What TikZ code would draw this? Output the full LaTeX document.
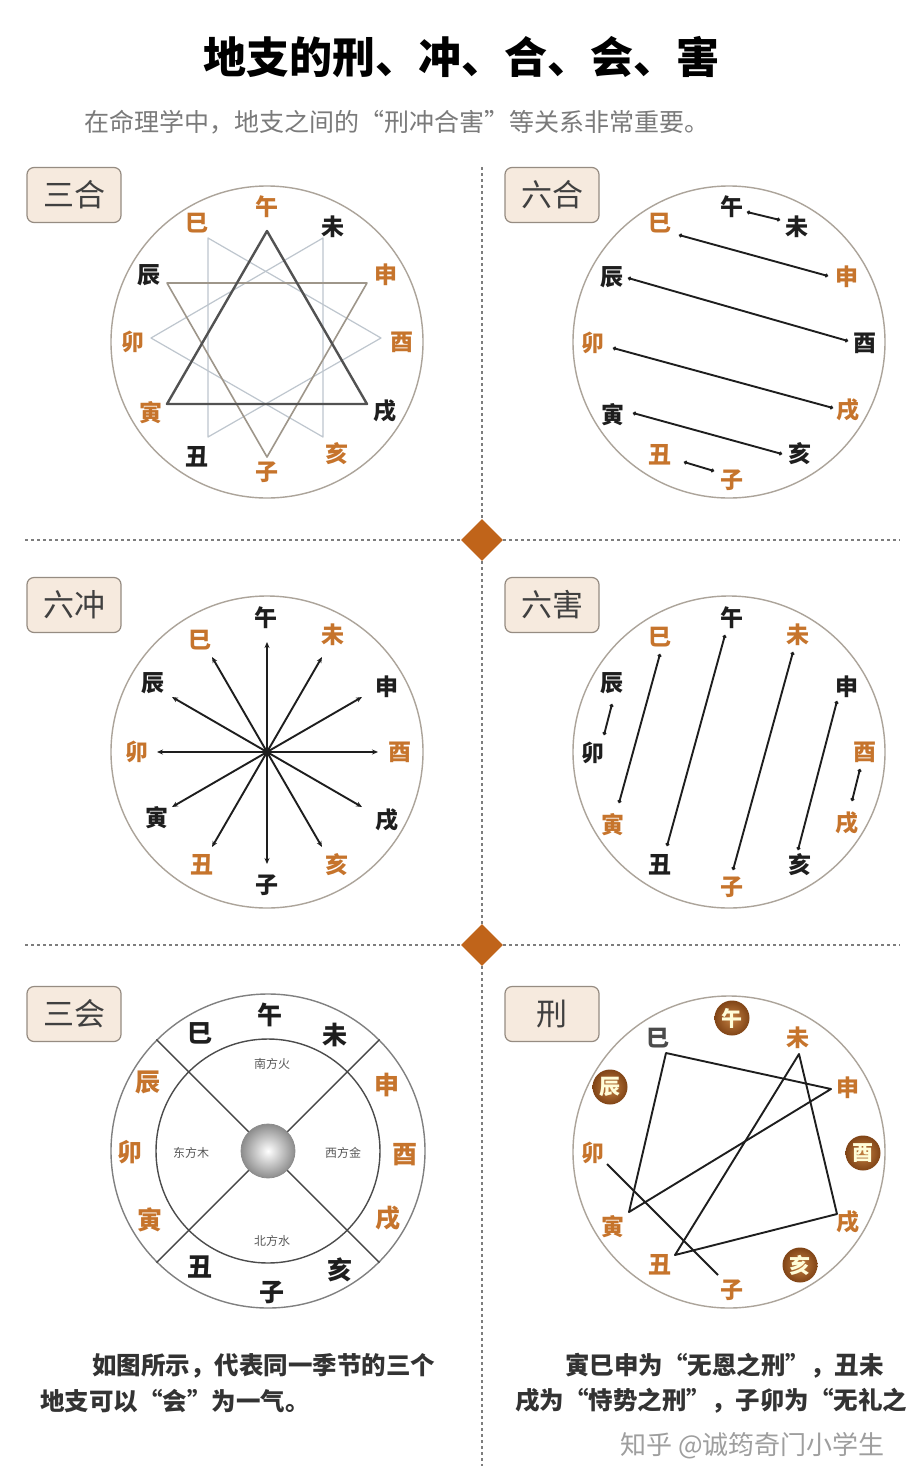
\documentclass[tikz,border=0pt]{standalone}
\usepackage{fontspec}
\setmainfont{Noto Sans CJK SC}
\usetikzlibrary{shapes.geometric,arrows.meta}
\definecolor{org}{RGB}{198,116,44}
\definecolor{blk}{RGB}{30,30,30}
\definecolor{ringc}{RGB}{172,164,154}
\definecolor{boxfill}{RGB}{246,234,222}
\definecolor{boxdraw}{RGB}{150,140,130}
\definecolor{dotc}{RGB}{125,125,125}
\definecolor{dia}{RGB}{192,100,26}
\definecolor{brA}{RGB}{196,128,66}
\definecolor{brB}{RGB}{128,68,22}
\definecolor{lightl}{RGB}{190,198,206}
\definecolor{midl}{RGB}{158,150,138}
\newcommand\glab[5]{\node[lab,text=#4] (#1) at (#2,#3) {#5};}
\begin{document}
\begin{tikzpicture}[x=1pt,y=-1pt,
  lab/.style={font=\fontsize{23}{25}\selectfont\bfseries, inner sep=0pt},
  biglab/.style={font=\fontsize{25}{27}\selectfont\bfseries, inner sep=0pt},
  ring/.style={circle, draw=ringc, line width=1.4pt, minimum size=312pt, inner sep=0pt},
  labbox/.style={draw=boxdraw, fill=boxfill, line width=1.2pt, rounded corners=7pt,
     minimum width=94pt, minimum height=55pt, font=\fontsize{31}{33}\selectfont, text=black!75},
  divider/.style={draw=dotc, line width=2.6pt, dash pattern=on 2.6pt off 3.4pt},
  conn/.style={draw=blk, line width=1.9pt, {Circle[length=3.6pt]}-{Circle[length=3.6pt]}},
  clash/.style={draw=blk, line width=1.9pt, -{Stealth[length=6pt,width=5pt]}},
  xing/.style={draw=blk, line width=1.9pt, line join=round},
  brc/.style={circle, inner sep=0pt, minimum size=35pt, inner color=brA, outer color=brB,
     text=white!85!yellow, font=\fontsize{21}{23}\selectfont\bfseries},
  inner/.style={font=\fontsize{12}{14}\selectfont, text=black!65, inner sep=0pt},
  para/.style={font=\fontsize{24.5}{26}\selectfont\bfseries, text=black!80, inner sep=0pt, anchor=west}
]
\useasboundingbox (0,0) rectangle (909,1481);
\fill[white] (0,0) rectangle (909,1481);

% ---------- title ----------
\node[font=\fontsize{43}{45}\selectfont\bfseries, text=black, inner sep=0pt] (title) at (461,57) {地支的刑、冲、合、会、害};
\node[font=\fontsize{25}{27}\selectfont, text=black!52, inner sep=0pt, anchor=west] (sub) at (84,122) {在命理学中，地支之间的“刑冲合害”等关系非常重要。};

% ---------- dividers ----------
\node[diamond, fill=dia, minimum size=42pt, inner sep=0pt] (d1) at (482,540) {};
\node[diamond, fill=dia, minimum size=42pt, inner sep=0pt] (d2) at (482,945) {};
\coordinate (vtop) at (482,167);
\coordinate (vbot) at (482,1466);
\coordinate (h1l) at (25,540);
\coordinate (h1r) at (900,540);
\coordinate (h2l) at (25,945);
\coordinate (h2r) at (900,945);
\path[divider] (vtop) -- (d1.north);
\path[divider] (d1.south) -- (d2.north);
\path[divider] (d2.south) -- (vbot);
\path[divider] (h1l) -- (d1.west);
\path[divider] (d1.east) -- (h1r);
\path[divider] (h2l) -- (d2.west);
\path[divider] (d2.east) -- (h2r);

% ---------- label boxes ----------
\node[labbox] (b1) at (74,195) {三合};
\node[labbox] (b2) at (552,195) {六合};
\node[labbox] (b3) at (74,605) {六冲};
\node[labbox] (b4) at (552,605) {六害};
\node[labbox] (b5) at (74,1014) {三会};
\node[labbox] (b6) at (552,1014) {刑};

% =========== Panel 1: 三合 ===========
\node[ring] (c1) at (267,342) {};
\coordinate (t3a) at (208,238); \coordinate (t3b) at (208,437); \coordinate (t3c) at (381,338);
\coordinate (t4a) at (323,238); \coordinate (t4b) at (323,437); \coordinate (t4c) at (151,338);
\coordinate (t2a) at (167,283); \coordinate (t2b) at (367,283); \coordinate (t2c) at (267,457);
\coordinate (t1a) at (267,231); \coordinate (t1b) at (167,404); \coordinate (t1c) at (367,404);
\draw[lightl, line width=1.2pt, line join=round] (t3a) -- (t3b) -- (t3c) -- cycle;
\draw[lightl, line width=1.2pt, line join=round] (t4a) -- (t4b) -- (t4c) -- cycle;
\draw[midl, line width=1.6pt, line join=round] (t2a) -- (t2b) -- (t2c) -- cycle;
\draw[black!68, line width=2.4pt, line join=round] (t1a) -- (t1b) -- (t1c) -- cycle;
\glab{p1wu}{267}{207}{org}{午}
\glab{p1wei}{333}{227}{blk}{未}
\glab{p1shen}{386}{275}{org}{申}
\glab{p1you}{402}{342}{org}{酉}
\glab{p1xu}{385}{411}{blk}{戌}
\glab{p1hai}{337}{454}{org}{亥}
\glab{p1zi}{267}{472}{org}{子}
\glab{p1chou}{197}{457}{blk}{丑}
\glab{p1yin}{151}{413}{org}{寅}
\glab{p1mao}{133}{342}{org}{卯}
\glab{p1chen}{149}{275}{blk}{辰}
\glab{p1si}{197}{223}{org}{巳}

% =========== Panel 2: 六合 ===========
\node[ring] (c2) at (729,342) {};
\glab{p2wu}{732}{207}{blk}{午}
\glab{p2wei}{797}{227}{blk}{未}
\glab{p2si}{660}{223}{org}{巳}
\glab{p2shen}{847}{277}{org}{申}
\glab{p2chen}{612}{277}{blk}{辰}
\glab{p2you}{865}{343}{blk}{酉}
\glab{p2mao}{593}{343}{org}{卯}
\glab{p2xu}{848}{410}{org}{戌}
\glab{p2yin}{613}{415}{blk}{寅}
\glab{p2hai}{800}{454}{blk}{亥}
\glab{p2chou}{660}{455}{org}{丑}
\glab{p2zi}{732}{480}{org}{子}
\coordinate (l1a) at (747,212); \coordinate (l1b) at (780,220);
\coordinate (l2a) at (679,235); \coordinate (l2b) at (828,276);
\coordinate (l3a) at (628,278); \coordinate (l3b) at (848,341);
\coordinate (l4a) at (613,348); \coordinate (l4b) at (833,408);
\coordinate (l5a) at (633,413); \coordinate (l5b) at (782,454);
\coordinate (l6a) at (684,462); \coordinate (l6b) at (714,471);
\draw[conn] (l1a) -- (l1b);
\draw[conn] (l2a) -- (l2b);
\draw[conn] (l3a) -- (l3b);
\draw[conn] (l4a) -- (l4b);
\draw[conn] (l5a) -- (l5b);
\draw[conn] (l6a) -- (l6b);

% =========== Panel 3: 六冲 ===========
\node[ring] (c3) at (267,752) {};
\coordinate (e90) at (267,642);
\coordinate (e60) at (322,657);
\coordinate (e30) at (362,697);
\coordinate (e0) at (378,752);
\coordinate (em30) at (362,807);
\coordinate (em60) at (322,847);
\coordinate (em90) at (267,864);
\coordinate (em120) at (212,847);
\coordinate (em150) at (172,807);
\coordinate (e180) at (157,752);
\coordinate (e150) at (172,697);
\coordinate (e120) at (212,657);
\node[circle, fill=blk, minimum size=9pt, inner sep=0pt] (ctr) at (267,752) {};
\foreach \e in {e90,e60,e30,e0,em30,em60,em90,em120,em150,e180,e150,e120}
  \draw[clash] (ctr.center) -- (\e);
\glab{p3wu}{266}{618}{blk}{午}
\glab{p3wei}{333}{635}{org}{未}
\glab{p3shen}{387}{687}{blk}{申}
\glab{p3you}{400}{752}{org}{酉}
\glab{p3xu}{387}{820}{blk}{戌}
\glab{p3hai}{337}{865}{org}{亥}
\glab{p3zi}{267}{885}{blk}{子}
\glab{p3chou}{202}{865}{org}{丑}
\glab{p3yin}{157}{818}{blk}{寅}
\glab{p3mao}{137}{752}{org}{卯}
\glab{p3chen}{153}{683}{blk}{辰}
\glab{p3si}{200}{640}{org}{巳}

% =========== Panel 4: 六害 ===========
\node[ring] (c4) at (729,752) {};
\glab{p4wu}{732}{618}{blk}{午}
\glab{p4si}{660}{637}{org}{巳}
\glab{p4wei}{798}{635}{org}{未}
\glab{p4chen}{612}{683}{blk}{辰}
\glab{p4shen}{847}{687}{blk}{申}
\glab{p4mao}{593}{753}{blk}{卯}
\glab{p4you}{865}{752}{org}{酉}
\glab{p4yin}{613}{825}{org}{寅}
\glab{p4xu}{847}{823}{org}{戌}
\glab{p4chou}{660}{865}{blk}{丑}
\glab{p4hai}{800}{865}{blk}{亥}
\glab{p4zi}{732}{887}{org}{子}
\coordinate (h1a) at (612,704); \coordinate (h1b) at (604,735);
\coordinate (h2a) at (660,654); \coordinate (h2b) at (619,803);
\coordinate (h3a) at (725,635); \coordinate (h3b) at (667,846);
\coordinate (h4a) at (793,652); \coordinate (h4b) at (733,870);
\coordinate (h5a) at (837,701); \coordinate (h5b) at (798,850);
\coordinate (h6a) at (860,769); \coordinate (h6b) at (852,801);
\draw[conn] (h1a) -- (h1b);
\draw[conn] (h2a) -- (h2b);
\draw[conn] (h3a) -- (h3b);
\draw[conn] (h4a) -- (h4b);
\draw[conn] (h5a) -- (h5b);
\draw[conn] (h6a) -- (h6b);

% =========== Panel 5: 三会 ===========
\node[circle, draw=black!50, line width=1.4pt, minimum size=314pt, inner sep=0pt] (c5) at (268,1151) {};
\node[circle, draw=black!70, line width=1.4pt, minimum size=224pt, inner sep=0pt] (c5i) at (268,1151) {};
\draw[black!72, line width=1.4pt] (c5.135) -- (c5.-45);
\draw[black!72, line width=1.4pt] (c5.45) -- (c5.-135);
\node[circle, minimum size=54pt, inner sep=0pt, draw=black!45, line width=0.8pt,
      inner color=white, outer color=black!45] (sph) at (268,1151) {};
\node[inner] (nan) at (272,1064) {南方火};
\node[inner] (dong) at (191,1153) {东方木};
\node[inner] (xi) at (343,1153) {西方金};
\node[inner] (bei) at (272,1241) {北方水};
\node[biglab,text=blk] (p5wu) at (270,1015) {午};
\node[biglab,text=blk] (p5si) at (200,1033) {巳};
\node[biglab,text=blk] (p5wei) at (335,1035) {未};
\node[biglab,text=org] (p5chen) at (148,1082) {辰};
\node[biglab,text=org] (p5shen) at (387,1085) {申};
\node[biglab,text=org] (p5mao) at (130,1152) {卯};
\node[biglab,text=org] (p5you) at (405,1155) {酉};
\node[biglab,text=org] (p5yin) at (150,1220) {寅};
\node[biglab,text=org] (p5xu) at (388,1218) {戌};
\node[biglab,text=blk] (p5chou) at (200,1267) {丑};
\node[biglab,text=blk] (p5zi) at (272,1293) {子};
\node[biglab,text=blk] (p5hai) at (340,1270) {亥};

% =========== Panel 6: 刑 ===========
\node[ring] (c6) at (729,1152) {};
\node[brc] (p6wu) at (732,1018) {午};
\node[brc] (p6chen) at (610,1087) {辰};
\node[brc] (p6you) at (863,1153) {酉};
\node[brc] (p6hai) at (800,1265) {亥};
\glab{p6si}{658}{1038}{blk!80}{巳}
\glab{p6wei}{798}{1038}{org}{未}
\glab{p6shen}{848}{1088}{org}{申}
\glab{p6mao}{593}{1153}{org}{卯}
\glab{p6yin}{613}{1227}{org}{寅}
\glab{p6xu}{848}{1222}{org}{戌}
\glab{p6chou}{660}{1265}{org}{丑}
\glab{p6zi}{732}{1290}{org}{子}
\coordinate (xsi) at (666,1053);
\coordinate (xshen) at (831,1089);
\coordinate (xyin) at (629,1212);
\coordinate (xwei) at (799,1054);
\coordinate (xxu) at (837,1214);
\coordinate (xchou) at (675,1255);
\coordinate (xmao) at (607,1164);
\coordinate (xzi) at (718,1275);
\draw[xing] (xsi) -- (xshen) -- (xyin) -- cycle;
\draw[xing] (xwei) -- (xxu) -- (xchou) -- cycle;
\draw[xing] (xmao) -- (xzi);

% ---------- bottom text ----------
\node[para] (pl1) at (92,1366) {如图所示，代表同一季节的三个};
\node[para] (pl2) at (40,1401) {地支可以“会”为一气。};
\node[para] (pr1) at (565,1366) {寅巳申为“无恩之刑”，丑未};
\node[para] (pr2) at (515,1401) {戌为“恃势之刑”，子卯为“无礼之};
\node[font=\fontsize{26}{28}\selectfont, text=black!38, inner sep=0pt, anchor=west] (wm) at (620,1446) {知乎 @诚筠奇门小学生};
\end{tikzpicture}
\end{document}
